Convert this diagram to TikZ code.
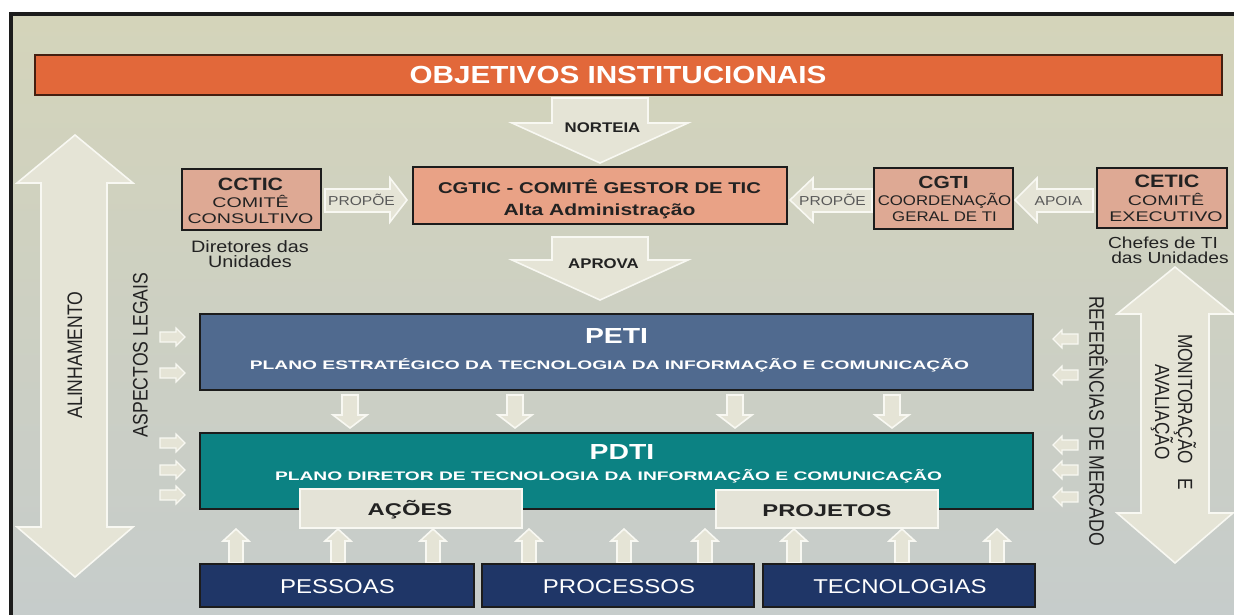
\documentclass[tikz,border=0pt]{standalone}
\usepackage{fontspec}
\setmainfont{Liberation Sans}
\newfontfamily\fA[FakeStretch=1.2]{Liberation Sans}
\newfontfamily\fB[FakeStretch=1.3]{Liberation Sans}
\newfontfamily\fC[FakeStretch=1.4]{Liberation Sans}
\newfontfamily\fD[FakeStretch=1.55]{Liberation Sans}
\newfontfamily\fN[FakeStretch=0.84]{Liberation Sans}
\newcommand\fsz[1]{\fontsize{#1}{#1}\selectfont}
\definecolor{bgtop}{HTML}{D4D4BA}
\definecolor{bgbot}{HTML}{C6CCCB}
\definecolor{orangebar}{HTML}{E2683A}
\definecolor{salmonA}{HTML}{E9A286}
\definecolor{salmonB}{HTML}{DEA994}
\definecolor{petiblue}{HTML}{506A8F}
\definecolor{pdtiteal}{HTML}{0C8283}
\definecolor{navy}{HTML}{1F3667}
\definecolor{lightbox}{HTML}{E4E3D7}
\definecolor{arrfill}{HTML}{E5E4D6}
\definecolor{arredge}{HTML}{F8F8F2}
\definecolor{darkedge}{HTML}{1C1C1C}
\definecolor{darktext}{HTML}{222222}
\definecolor{graytext}{HTML}{5A5A5A}
% small block arrows
\newcommand\arrDown[3]{\draw[barrow] ({#1-8},{#2}) -- ({#1+8},{#2}) -- ({#1+8},{#3-13}) -- ({#1+17},{#3-13}) -- ({#1},{#3}) -- ({#1-17},{#3-13}) -- ({#1-8},{#3-13}) -- cycle;}
\newcommand\arrUp[3]{\draw[barrow] ({#1-7},{#2}) -- ({#1+7},{#2}) -- ({#1+7},{#3+12}) -- ({#1+13},{#3+12}) -- ({#1},{#3}) -- ({#1-13},{#3+12}) -- ({#1-7},{#3+12}) -- cycle;}
\newcommand\arrRight[3]{\draw[barrow,line width=1.2pt] ({#1},{#3-5}) -- ({#2-9},{#3-5}) -- ({#2-9},{#3-9}) -- ({#2},{#3}) -- ({#2-9},{#3+9}) -- ({#2-9},{#3+5}) -- ({#1},{#3+5}) -- cycle;}
\newcommand\arrLeft[3]{\draw[barrow,line width=1.2pt] ({#1},{#3-5}) -- ({#2+9},{#3-5}) -- ({#2+9},{#3-9}) -- ({#2},{#3}) -- ({#2+9},{#3+9}) -- ({#2+9},{#3+5}) -- ({#1},{#3+5}) -- cycle;}
\tikzset{
  barrow/.style={fill=arrfill, draw=arredge, line width=1.6pt, line join=miter},
  boxbase/.style={inner sep=0pt, outer sep=0pt, anchor=center},
  salA/.style={boxbase, fill=salmonA, draw=darkedge, line width=2pt},
  salB/.style={boxbase, fill=salmonB, draw=darkedge, line width=2pt},
  planbox/.style={boxbase, draw=darkedge, line width=2.5pt},
  lightb/.style={boxbase, fill=lightbox, draw=arredge, line width=2pt},
  navyb/.style={boxbase, fill=navy, draw=darkedge, line width=1.5pt},
  txt/.style={inner sep=0pt, anchor=base},
  rtxt/.style={inner sep=0pt, anchor=center, text=darktext, font=\fN\fsz{21}, align=center},
}
\begin{document}
\begin{tikzpicture}[x=1pt,y=-1pt]
\useasboundingbox (0,0) rectangle (1234,615);
\clip (0,0) rectangle (1234,615);
\fill[white] (0,0) rectangle (1234,615);
% background with gradient
\shade[top color=bgtop, bottom color=bgbot] (11,14) rectangle (1240,620);
\draw[line width=4pt, color=darkedge] (11,620) -- (11,14) -- (1240,14);

% title bar
\node[boxbase, fill=orangebar, draw=black!70!orangebar, line width=1.5pt, minimum width=1187pt, minimum height=40pt] (obj) at (628.5,75) {};
\node[txt, text=white, font=\fA\bfseries\fsz{24.7}] (objt) at (618,83.3) {OBJETIVOS INSTITUCIONAIS};

% big block arrows
\draw[barrow] (75,135) -- (133,183) -- (107,183) -- (107,527) -- (133,527) -- (75,577) -- (17,527) -- (41,527) -- (41,183) -- (17,183) -- cycle;
\draw[barrow] (1175,267) -- (1233,314) -- (1209,314) -- (1209,513) -- (1233,513) -- (1175,563) -- (1117,513) -- (1141,513) -- (1141,314) -- (1117,314) -- cycle;
\draw[barrow] (552,98) -- (648,98) -- (648,123) -- (688,123) -- (600,163) -- (512,123) -- (552,123) -- cycle;
\draw[barrow] (552,237) -- (648,237) -- (648,260) -- (688,260) -- (600,300) -- (512,260) -- (552,260) -- cycle;
\draw[barrow] (325,189) -- (390,189) -- (390,178) -- (407,200) -- (390,222) -- (390,212) -- (325,212) -- cycle;
\draw[barrow] (872,189) -- (813,189) -- (813,178) -- (790,200) -- (813,222) -- (813,212) -- (872,212) -- cycle;
\draw[barrow] (1093,189) -- (1037,189) -- (1037,178) -- (1015,200) -- (1037,222) -- (1037,212) -- (1093,212) -- cycle;

\node[txt, text=darktext, font=\fA\bfseries\fsz{14}] (nort) at (602.5,133) {NORTEIA};
\node[txt, text=darktext, font=\fA\bfseries\fsz{14}] (aprv) at (603.5,268) {APROVA};
\node[txt, text=graytext, font=\fA\fsz{13}] (prop1) at (361.5,205) {PROPÕE};
\node[txt, text=graytext, font=\fA\fsz{13}] (prop2) at (832.5,205) {PROPÕE};
\node[txt, text=graytext, font=\fA\fsz{13}] (apoia) at (1058.5,205) {APOIA};

% committees
\node[salB, minimum width=139pt, minimum height=61pt] (cctic) at (251.5,199.5) {};
\node[txt, text=darktext, font=\fA\bfseries\fsz{17.8}] (cctic1) at (250.5,190) {CCTIC};
\node[txt, text=darktext, font=\fC\fsz{14}] (cctic2) at (250.5,207) {COMITÊ};
\node[txt, text=darktext, font=\fC\fsz{14}] (cctic3) at (250.5,223) {CONSULTIVO};
\node[txt, text=darktext, font=\fA\fsz{16.5}] (dir1) at (250,252) {Diretores das};
\node[txt, text=darktext, font=\fA\fsz{16.5}] (dir2) at (250,267) {Unidades};

\node[salA, minimum width=374pt, minimum height=57pt] (cgtic) at (600,195.5) {};
\node[txt, text=darktext, font=\fB\bfseries\fsz{15.6}] (cgtic1) at (599.5,193) {CGTIC - COMITÊ GESTOR DE TIC};
\node[txt, text=darktext, font=\fB\bfseries\fsz{16.2}] (cgtic2) at (599.5,215) {Alta Administração};

\node[salB, minimum width=139pt, minimum height=61pt] (cgti) at (943.5,198.5) {};
\node[txt, text=darktext, font=\fA\bfseries\fsz{17.5}] (cgti1) at (943.5,188) {CGTI};
\node[txt, text=darktext, font=\fA\fsz{14}] (cgti2) at (944.5,205) {COORDENAÇÃO};
\node[txt, text=darktext, font=\fA\fsz{14}] (cgti3) at (944.5,221.5) {GERAL DE TI};

\node[salB, minimum width=130pt, minimum height=60pt] (cetic) at (1162,198) {};
\node[txt, text=darktext, font=\fA\bfseries\fsz{18}] (cetic1) at (1167,187) {CETIC};
\node[txt, text=darktext, font=\fC\fsz{14}] (cetic2) at (1166,205) {COMITÊ};
\node[txt, text=darktext, font=\fC\fsz{14}] (cetic3) at (1166,221) {EXECUTIVO};
\node[txt, text=darktext, font=\fA\fsz{16}] (chef1) at (1163,248) {Chefes de TI};
\node[txt, text=darktext, font=\fA\fsz{16}] (chef2) at (1170,263) {das Unidades};

% side small arrows
\arrRight{160}{185}{337}
\arrRight{160}{185}{373}
\arrRight{160}{185}{443}
\arrRight{160}{185}{470}
\arrRight{160}{185}{495}
\arrLeft{1078}{1053}{339}
\arrLeft{1078}{1053}{375}
\arrLeft{1078}{1053}{445}
\arrLeft{1078}{1053}{470}
\arrLeft{1078}{1053}{497}

% down arrows between PETI and PDTI
\arrDown{350}{395}{428}
\arrDown{515}{395}{428}
\arrDown{735}{395}{428}
\arrDown{892}{395}{428}

% up arrows
\arrUp{236}{563}{529}
\arrUp{338}{563}{529}
\arrUp{433}{563}{529}
\arrUp{529}{563}{529}
\arrUp{624}{563}{529}
\arrUp{705}{563}{529}
\arrUp{794}{563}{529}
\arrUp{902}{563}{529}
\arrUp{997}{563}{529}

% plans
\node[planbox, fill=petiblue, minimum width=833pt, minimum height=76pt] (peti) at (616.5,352) {};
\node[txt, text=white, font=\fB\bfseries\fsz{21.8}] (peti1) at (616.5,343) {PETI};
\node[txt, text=white, font=\fD\bfseries\fsz{12.4}] (peti2) at (609.5,369.5) {PLANO ESTRATÉGICO DA TECNOLOGIA DA INFORMAÇÃO E COMUNICAÇÃO};

\node[planbox, fill=pdtiteal, minimum width=833pt, minimum height=76pt] (pdti) at (616.5,471) {};
\node[txt, text=white, font=\fB\bfseries\fsz{21.8}] (pdti1) at (622,459.5) {PDTI};
\node[txt, text=white, font=\fD\bfseries\fsz{12.4}] (pdti2) at (608.5,480) {PLANO DIRETOR DE TECNOLOGIA DA INFORMAÇÃO E COMUNICAÇÃO};

\node[lightb, minimum width=222pt, minimum height=39pt] (acoes) at (411,508.5) {};
\node[txt, text=darktext, font=\fC\bfseries\fsz{17}] (acoest) at (410,515) {AÇÕES};
\node[lightb, minimum width=222pt, minimum height=38pt] (proj) at (827,509) {};
\node[txt, text=darktext, font=\fC\bfseries\fsz{17}] (projt) at (827,516) {PROJETOS};

% bottom boxes
\node[navyb, minimum width=274pt, minimum height=43pt] (pess) at (337,585.5) {};
\node[txt, text=white, font=\fA\fsz{20}] (pesst) at (337.5,593) {PESSOAS};
\node[navyb, minimum width=272pt, minimum height=43pt] (proc) at (618,585.5) {};
\node[txt, text=white, font=\fA\fsz{20}] (proct) at (619,593) {PROCESSOS};
\node[navyb, minimum width=272pt, minimum height=43pt] (tecn) at (899,585.5) {};
\node[txt, text=white, font=\fA\fsz{20}] (tecnt) at (900,593) {TECNOLOGIAS};

% rotated labels
\node[rtxt, rotate=90] (alin) at (75,355) {ALINHAMENTO};
\node[rtxt, rotate=90] (asp) at (140.5,355) {ASPECTOS LEGAIS};
\node[rtxt, rotate=-90] (ref) at (1098.5,421) {REFERÊNCIAS DE MERCADO};
\node[rtxt, rotate=-90, font=\fN\fontsize{20.5}{23}\selectfont] (mon) at (1173.5,412) {MONITORAÇÃO\hspace{0.7em}E\\AVALIAÇÃO};
\end{tikzpicture}
\end{document}
